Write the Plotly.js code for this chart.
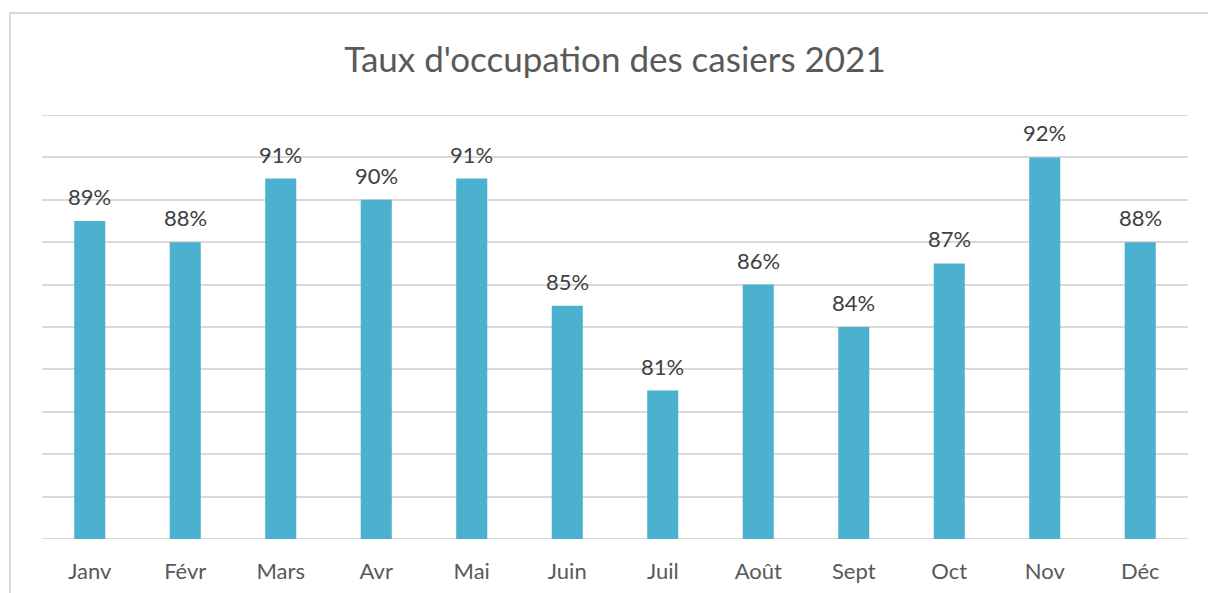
<!DOCTYPE html>
<html>
<head>
<meta charset="utf-8">
<script src="https://cdn.plot.ly/plotly-3.0.1.min.js"></script>
<style>
  html, body { margin: 0; padding: 0; background: #ffffff; overflow: hidden; }
  #frame { position: absolute; left: 9px; top: 12px; width: 1300px; height: 700px; border: 2px solid #d9d9d9; box-sizing: border-box; pointer-events: none; z-index: 5; }
  #chart { position: absolute; left: 0; top: 0; width: 1208px; height: 593px; }
</style>
</head>
<body>
<div id="chart"></div>
<div id="frame"></div>
<script>
const months = ["Janv", "Févr", "Mars", "Avr", "Mai", "Juin", "Juil", "Août", "Sept", "Oct", "Nov", "Déc"];
const occupancy = [0.89, 0.88, 0.91, 0.90, 0.91, 0.85, 0.81, 0.86, 0.84, 0.87, 0.92, 0.88];
const chartTitle = "Taux d'occupation des casiers 2021";
const yMin = 0.74;
const yMax = 0.94;

const fontFamily = "Lato, 'Open Sans', sans-serif";

const trace = {
  type: "bar",
  x: months,
  y: occupancy,
  marker: { color: "#4bb1cf" },
  width: 0.325,
  hoverinfo: "skip"
};

const annotations = months.map((m, i) => ({
  x: m,
  y: occupancy[i],
  xref: "x",
  yref: "y",
  text: Math.round(occupancy[i] * 100) + "%",
  showarrow: false,
  yanchor: "bottom",
  yshift: 9,
  font: { family: fontFamily, size: 22, color: "#404040" }
}));

const edgeLines = [yMin, yMax].map(v => ({
  type: "line",
  xref: "paper",
  yref: "y",
  x0: 0,
  x1: 1,
  y0: v,
  y1: v,
  layer: "below",
  line: { color: "#d9d9d9", width: 2 }
}));

const layout = {
  width: 1208,
  height: 593,
  margin: { l: 42, r: 20, t: 115, b: 54 },
  paper_bgcolor: "#ffffff",
  plot_bgcolor: "#ffffff",
  showlegend: false,
  bargap: 0.675,
  title: {
    text: chartTitle,
    font: { family: fontFamily, size: 35, color: "#595959" },
    x: 0.5,
    xref: "paper",
    y: 1 - 60 / 593,
    yref: "container",
    yanchor: "middle"
  },
  xaxis: {
    type: "category",
    showgrid: false,
    zeroline: false,
    showline: false,
    ticks: "outside",
    ticklen: 13,
    tickcolor: "rgba(0,0,0,0)",
    tickfont: { family: fontFamily, size: 22, color: "#595959" },
    fixedrange: true
  },
  yaxis: {
    range: [yMin, yMax],
    dtick: 0.02,
    tick0: yMin,
    showticklabels: false,
    showgrid: true,
    gridcolor: "#d9d9d9",
    gridwidth: 2,
    zeroline: false,
    showline: false,
    fixedrange: true
  },
  shapes: edgeLines,
  annotations: annotations
};

Plotly.newPlot("chart", [trace], layout, { displayModeBar: false, staticPlot: true });
</script>
</body>
</html>
